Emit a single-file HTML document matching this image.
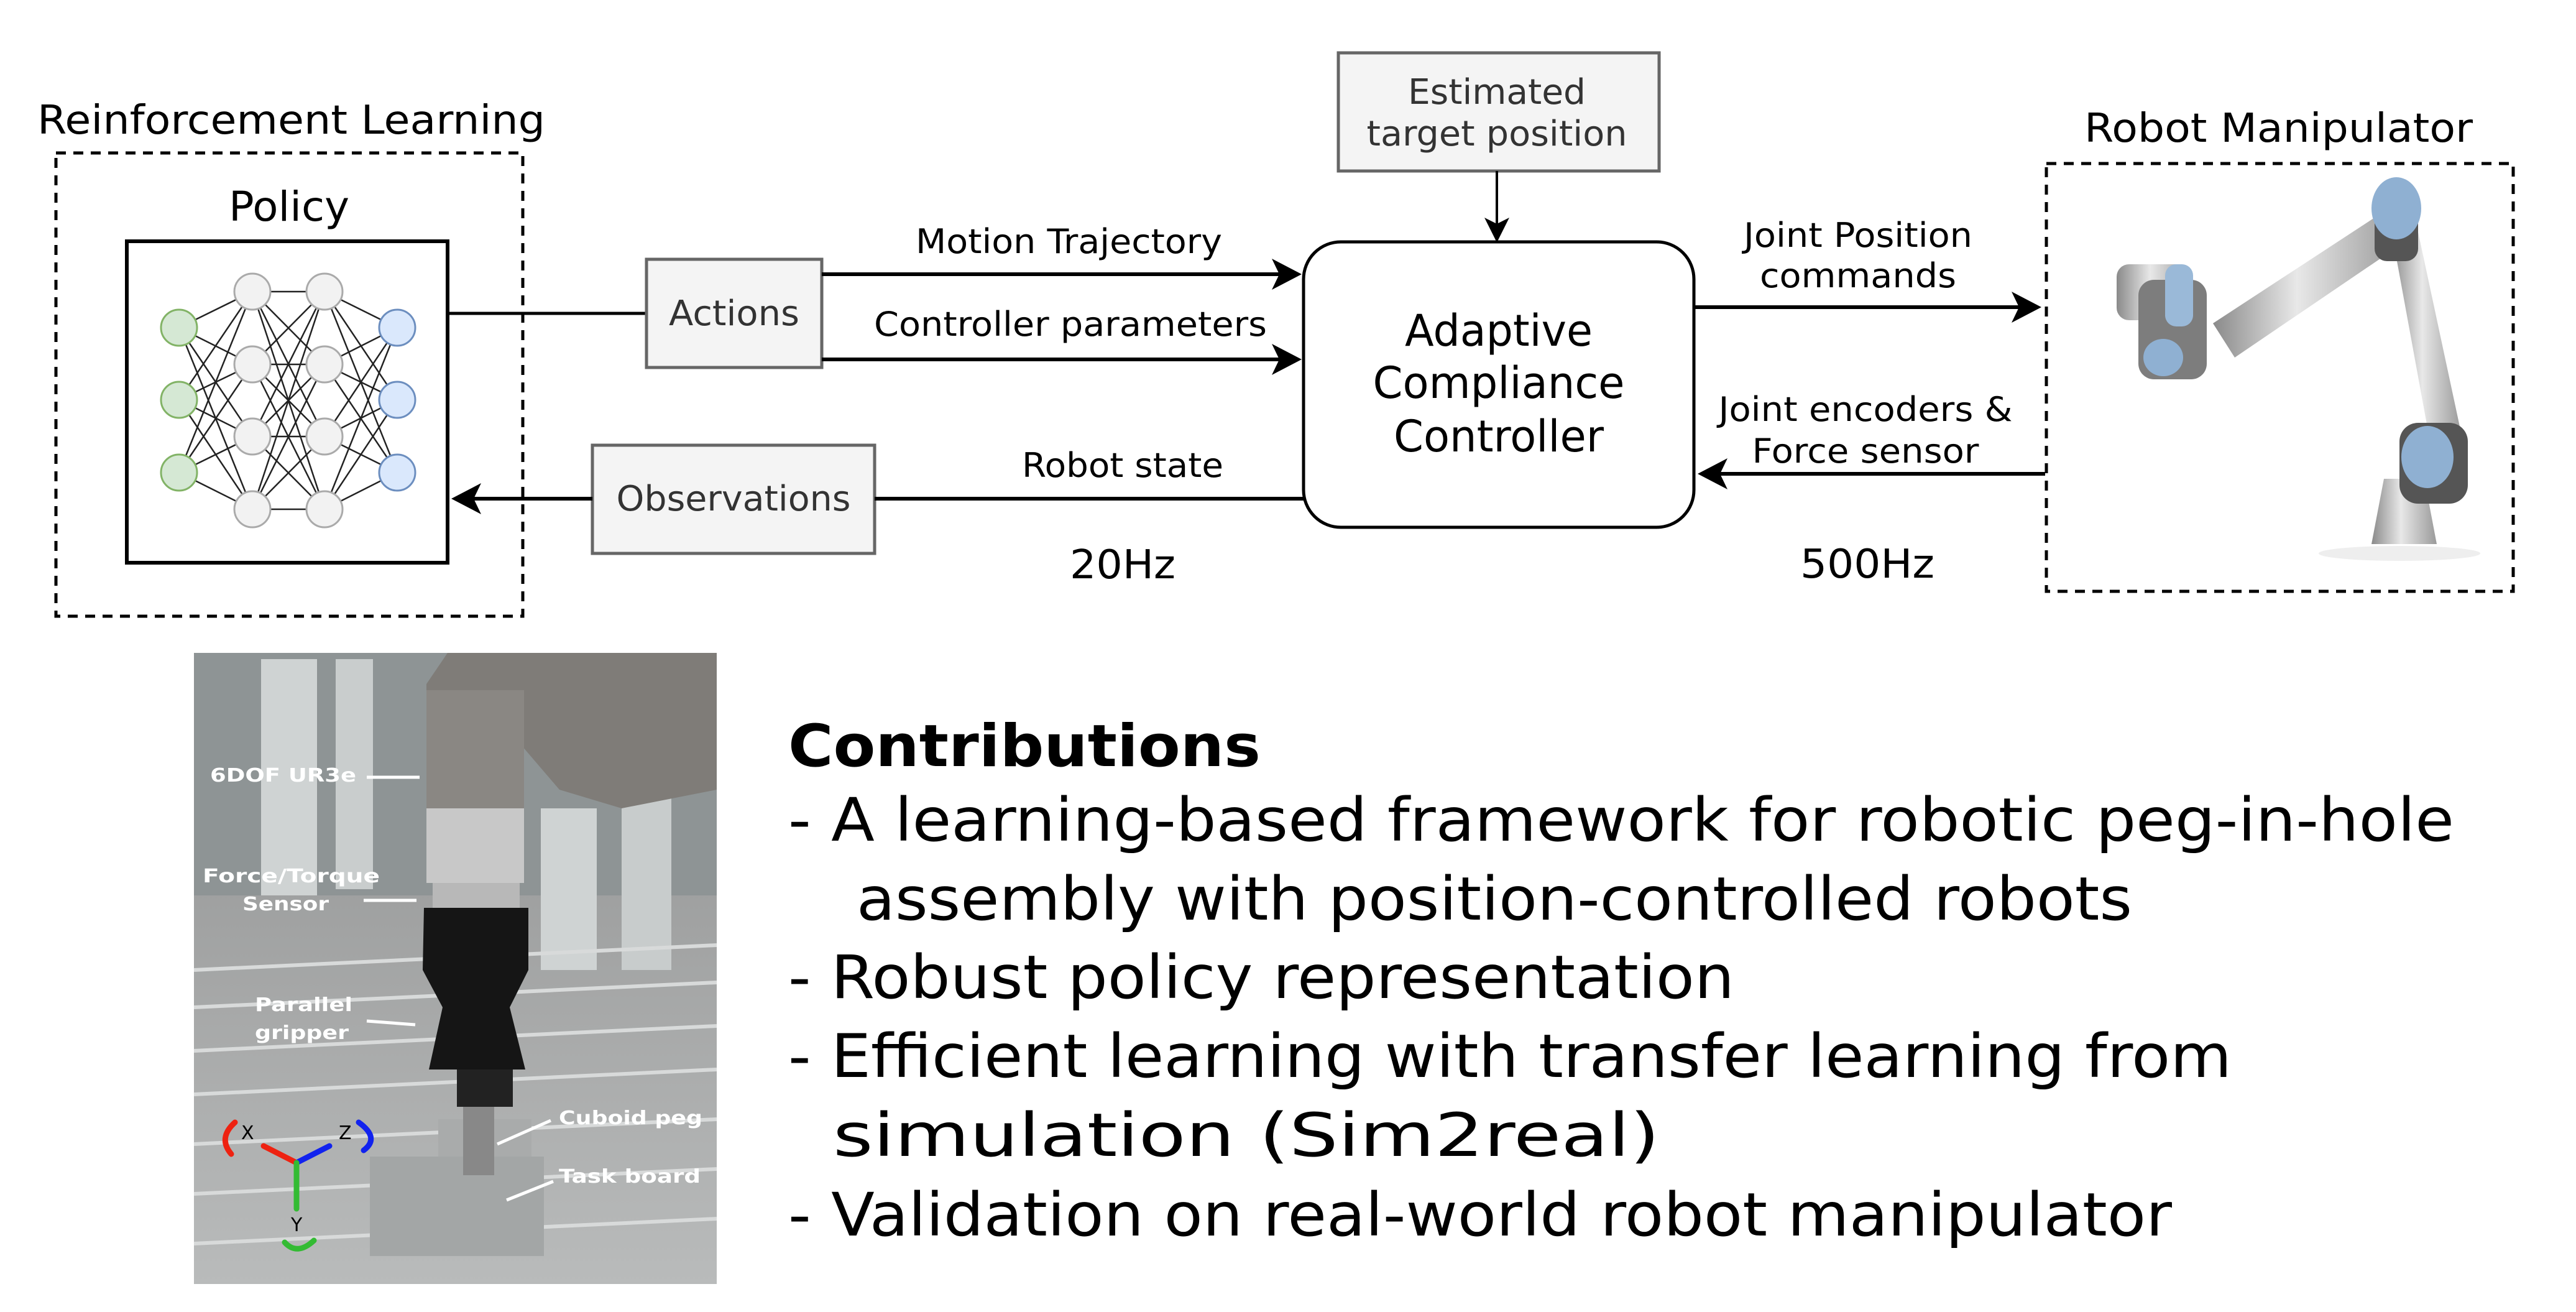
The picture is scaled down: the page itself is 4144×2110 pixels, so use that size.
<!DOCTYPE html>
<html><head><meta charset="utf-8"><style>
html,body{margin:0;padding:0;background:#fff;}
svg{display:block;}
text{font-family:"DejaVu Sans","Liberation Sans",sans-serif;}
</style></head><body>
<svg width="4144" height="2110" viewBox="0 0 4144 2110" xmlns="http://www.w3.org/2000/svg">
<defs>
<linearGradient id="arm" x1="0" y1="0" x2="1" y2="0"><stop offset="0" stop-color="#8a8a8a"/><stop offset="0.45" stop-color="#e8e8e8"/><stop offset="1" stop-color="#9a9a9a"/></linearGradient>
<linearGradient id="floor" x1="0" y1="0" x2="0" y2="1"><stop offset="0" stop-color="#8f9090"/><stop offset="1" stop-color="#b9bbbb"/></linearGradient>
</defs>

<!-- RL section -->
<text x="60" y="215" font-size="64" textLength="817" lengthAdjust="spacingAndGlyphs">Reinforcement Learning</text>
<rect x="90" y="246" width="751" height="745" fill="none" stroke="#000" stroke-width="5" stroke-dasharray="16,12"/>
<text x="368" y="355" font-size="66" textLength="194" lengthAdjust="spacingAndGlyphs">Policy</text>
<rect x="204" y="388" width="516" height="517" fill="#fff" stroke="#000" stroke-width="6"/>
<g stroke="#222" stroke-width="2.5">
<line x1="288" y1="527" x2="406" y2="469"/><line x1="288" y1="527" x2="406" y2="586"/><line x1="288" y1="527" x2="406" y2="702"/><line x1="288" y1="527" x2="406" y2="819"/>
<line x1="288" y1="643" x2="406" y2="469"/><line x1="288" y1="643" x2="406" y2="586"/><line x1="288" y1="643" x2="406" y2="702"/><line x1="288" y1="643" x2="406" y2="819"/>
<line x1="288" y1="760" x2="406" y2="469"/><line x1="288" y1="760" x2="406" y2="586"/><line x1="288" y1="760" x2="406" y2="702"/><line x1="288" y1="760" x2="406" y2="819"/>
<line x1="406" y1="469" x2="522" y2="469"/><line x1="406" y1="469" x2="522" y2="586"/><line x1="406" y1="469" x2="522" y2="702"/><line x1="406" y1="469" x2="522" y2="819"/>
<line x1="406" y1="586" x2="522" y2="469"/><line x1="406" y1="586" x2="522" y2="586"/><line x1="406" y1="586" x2="522" y2="702"/><line x1="406" y1="586" x2="522" y2="819"/>
<line x1="406" y1="702" x2="522" y2="469"/><line x1="406" y1="702" x2="522" y2="586"/><line x1="406" y1="702" x2="522" y2="702"/><line x1="406" y1="702" x2="522" y2="819"/>
<line x1="406" y1="819" x2="522" y2="469"/><line x1="406" y1="819" x2="522" y2="586"/><line x1="406" y1="819" x2="522" y2="702"/><line x1="406" y1="819" x2="522" y2="819"/>
<line x1="639" y1="527" x2="522" y2="469"/><line x1="639" y1="527" x2="522" y2="586"/><line x1="639" y1="527" x2="522" y2="702"/><line x1="639" y1="527" x2="522" y2="819"/>
<line x1="639" y1="643" x2="522" y2="469"/><line x1="639" y1="643" x2="522" y2="586"/><line x1="639" y1="643" x2="522" y2="702"/><line x1="639" y1="643" x2="522" y2="819"/>
<line x1="639" y1="760" x2="522" y2="469"/><line x1="639" y1="760" x2="522" y2="586"/><line x1="639" y1="760" x2="522" y2="702"/><line x1="639" y1="760" x2="522" y2="819"/>
</g>
<g stroke-width="3">
<circle cx="288" cy="527" r="29" fill="#d5e8d4" stroke="#82b366"/><circle cx="288" cy="643" r="29" fill="#d5e8d4" stroke="#82b366"/><circle cx="288" cy="760" r="29" fill="#d5e8d4" stroke="#82b366"/>
<circle cx="406" cy="469" r="29" fill="#f2f2f2" stroke="#aaa"/><circle cx="406" cy="586" r="29" fill="#f2f2f2" stroke="#aaa"/><circle cx="406" cy="702" r="29" fill="#f2f2f2" stroke="#aaa"/><circle cx="406" cy="819" r="29" fill="#f2f2f2" stroke="#aaa"/>
<circle cx="522" cy="469" r="29" fill="#f2f2f2" stroke="#aaa"/><circle cx="522" cy="586" r="29" fill="#f2f2f2" stroke="#aaa"/><circle cx="522" cy="702" r="29" fill="#f2f2f2" stroke="#aaa"/><circle cx="522" cy="819" r="29" fill="#f2f2f2" stroke="#aaa"/>
<circle cx="639" cy="527" r="29" fill="#dae8fc" stroke="#6c8ebf"/><circle cx="639" cy="643" r="29" fill="#dae8fc" stroke="#6c8ebf"/><circle cx="639" cy="760" r="29" fill="#dae8fc" stroke="#6c8ebf"/>
</g>

<!-- Actions -->
<line x1="720" y1="504" x2="1040" y2="504" stroke="#000" stroke-width="5"/>
<rect x="1040" y="417" width="282" height="174" fill="#f4f4f4" stroke="#666" stroke-width="5"/>
<text x="1181" y="523" font-size="56" fill="#333" text-anchor="middle" textLength="210" lengthAdjust="spacingAndGlyphs">Actions</text>
<line x1="1322" y1="441" x2="2060" y2="441" stroke="#000" stroke-width="6"/>
<polygon points="2094,441 2046,416 2058,441 2046,466" fill="#000"/>
<line x1="1322" y1="578" x2="2060" y2="578" stroke="#000" stroke-width="6"/>
<polygon points="2094,578 2046,553 2058,578 2046,603" fill="#000"/>
<text x="1473" y="407" font-size="54" textLength="493" lengthAdjust="spacingAndGlyphs">Motion Trajectory</text>
<text x="1406" y="540" font-size="54" textLength="632" lengthAdjust="spacingAndGlyphs">Controller parameters</text>

<!-- Observations -->
<rect x="953" y="716" width="454" height="174" fill="#f4f4f4" stroke="#666" stroke-width="5"/>
<text x="1180" y="821" font-size="56" fill="#333" text-anchor="middle" textLength="377" lengthAdjust="spacingAndGlyphs">Observations</text>
<line x1="953" y1="802" x2="760" y2="802" stroke="#000" stroke-width="6"/>
<polygon points="726,802 774,777 762,802 774,827" fill="#000"/>
<line x1="1407" y1="802" x2="2097" y2="802" stroke="#000" stroke-width="6"/>
<text x="1644" y="767" font-size="54" textLength="324" lengthAdjust="spacingAndGlyphs">Robot state</text>
<text x="1721" y="930" font-size="64" textLength="170" lengthAdjust="spacingAndGlyphs">20Hz</text>

<!-- Estimated target -->
<rect x="2153" y="85" width="516" height="190" fill="#f4f4f4" stroke="#666" stroke-width="5"/>
<text x="2408" y="167" font-size="56" fill="#333" text-anchor="middle" textLength="286" lengthAdjust="spacingAndGlyphs">Estimated</text>
<text x="2408" y="234" font-size="56" fill="#333" text-anchor="middle" textLength="419" lengthAdjust="spacingAndGlyphs">target position</text>
<line x1="2408" y1="275" x2="2408" y2="360" stroke="#000" stroke-width="4"/>
<polygon points="2408,390 2388,350 2408,360 2428,350" fill="#000"/>

<!-- Controller -->
<rect x="2097" y="389" width="628" height="459" rx="60" ry="60" fill="#fff" stroke="#000" stroke-width="5"/>
<text x="2411" y="556" font-size="70" text-anchor="middle" textLength="302" lengthAdjust="spacingAndGlyphs">Adaptive</text>
<text x="2411" y="640" font-size="70" text-anchor="middle" textLength="405" lengthAdjust="spacingAndGlyphs">Compliance</text>
<text x="2411" y="726" font-size="70" text-anchor="middle" textLength="338" lengthAdjust="spacingAndGlyphs">Controller</text>

<line x1="2725" y1="494" x2="3250" y2="494" stroke="#000" stroke-width="6"/>
<polygon points="3284,494 3236,469 3248,494 3236,519" fill="#000"/>
<text x="2989" y="397" font-size="54" text-anchor="middle" textLength="368" lengthAdjust="spacingAndGlyphs">Joint Position</text>
<text x="2989" y="462" font-size="54" text-anchor="middle" textLength="316" lengthAdjust="spacingAndGlyphs">commands</text>
<line x1="3290" y1="762" x2="2765" y2="762" stroke="#000" stroke-width="6"/>
<polygon points="2731,762 2779,737 2767,762 2779,787" fill="#000"/>
<text x="3001" y="677" font-size="54" text-anchor="middle" textLength="473" lengthAdjust="spacingAndGlyphs">Joint encoders &amp;</text>
<text x="3001" y="744" font-size="54" text-anchor="middle" textLength="365" lengthAdjust="spacingAndGlyphs">Force sensor</text>
<text x="2896" y="929" font-size="64" textLength="216" lengthAdjust="spacingAndGlyphs">500Hz</text>

<!-- Robot Manipulator -->
<text x="3353" y="228" font-size="64" textLength="625" lengthAdjust="spacingAndGlyphs">Robot Manipulator</text>
<rect x="3292" y="263" width="751" height="688" fill="none" stroke="#000" stroke-width="5" stroke-dasharray="16,12"/>
<g>
<ellipse cx="3860" cy="890" rx="130" ry="12" fill="#eee"/>
<path d="M3835,770 L3900,770 L3920,875 L3815,875 z" fill="url(#arm)"/>
<path d="M3845,360 L3885,350 L3960,700 L3910,715 z" fill="url(#arm)"/>
<path d="M3560,520 L3820,350 L3860,395 L3595,575 z" fill="url(#arm)"/>
<rect x="3405" y="425" width="120" height="90" rx="20" fill="url(#arm)"/>
<rect x="3440" y="450" width="110" height="160" rx="25" fill="#7d7d7d"/>
<rect x="3483" y="425" width="45" height="100" rx="18" fill="#9ab9d8"/>
<ellipse cx="3480" cy="575" rx="32" ry="30" fill="#8fb0d2"/>
<rect x="3860" y="680" width="110" height="130" rx="30" fill="#555"/>
<ellipse cx="3905" cy="735" rx="42" ry="50" fill="#8fb0d2"/>
<rect x="3820" y="330" width="70" height="90" rx="20" fill="#555"/>
<ellipse cx="3855" cy="335" rx="40" ry="50" fill="#8fb0d2"/>
</g>

<!-- Photo -->
<g>
<rect x="312" y="1050" width="841" height="1015" fill="url(#floor)"/>
<rect x="312" y="1050" width="841" height="390" fill="#8e9495"/>
<rect x="420" y="1060" width="90" height="380" fill="#cfd3d3"/>
<rect x="540" y="1060" width="60" height="370" fill="#c9cdcd"/>
<rect x="870" y="1300" width="90" height="260" fill="#cfd3d3"/>
<rect x="1000" y="1280" width="80" height="280" fill="#c8cccc"/>
<g stroke="#d8dada" stroke-width="6">
<line x1="312" y1="1560" x2="1153" y2="1520"/><line x1="312" y1="1620" x2="1153" y2="1580"/><line x1="312" y1="1690" x2="1153" y2="1650"/><line x1="312" y1="1760" x2="1153" y2="1720"/><line x1="312" y1="1840" x2="1153" y2="1800"/><line x1="312" y1="1920" x2="1153" y2="1880"/><line x1="312" y1="2000" x2="1153" y2="1960"/>
</g>
<path d="M720,1050 L1153,1050 L1153,1270 L1000,1300 L900,1270 L840,1200 L843,1300 L686,1300 L686,1100 z" fill="#7f7c78"/>
<rect x="686" y="1110" width="157" height="190" fill="#8a8783"/>
<rect x="686" y="1300" width="157" height="120" fill="#c8c8c8"/>
<rect x="696" y="1420" width="140" height="40" fill="#b8b8b8"/>
<path d="M682,1460 L850,1460 L850,1560 L820,1620 L845,1720 L690,1720 L712,1620 L680,1560 z" fill="#151515"/>
<rect x="735" y="1720" width="90" height="60" fill="#222"/>
<rect x="705" y="1800" width="150" height="90" fill="#a9abab"/>
<rect x="595" y="1860" width="280" height="160" fill="#a3a6a6"/>
<rect x="745" y="1780" width="50" height="110" fill="#888"/>
<g font-family="'DejaVu Sans','Liberation Sans',sans-serif" font-weight="bold" fill="#fff" font-size="30">
<text x="338" y="1257" textLength="235" lengthAdjust="spacingAndGlyphs">6DOF UR3e</text>
<text x="326" y="1419" textLength="285" lengthAdjust="spacingAndGlyphs">Force/Torque</text>
<text x="390" y="1464" textLength="139" lengthAdjust="spacingAndGlyphs">Sensor</text>
<text x="410" y="1626" textLength="157" lengthAdjust="spacingAndGlyphs">Parallel</text>
<text x="410" y="1671" textLength="151" lengthAdjust="spacingAndGlyphs">gripper</text>
<text x="899" y="1808" textLength="231" lengthAdjust="spacingAndGlyphs">Cuboid peg</text>
<text x="899" y="1902" textLength="228" lengthAdjust="spacingAndGlyphs">Task board</text>
</g>
<g stroke="#fff" stroke-width="5">
<line x1="590" y1="1250" x2="675" y2="1250"/><line x1="585" y1="1448" x2="670" y2="1448"/>
<line x1="590" y1="1642" x2="668" y2="1648"/><line x1="800" y1="1840" x2="886" y2="1802"/><line x1="815" y1="1930" x2="890" y2="1900"/>
</g>
<g stroke-width="9" fill="none" stroke-linecap="round">
<line x1="477" y1="1870" x2="424" y2="1843" stroke="#e21"/>
<line x1="477" y1="1870" x2="530" y2="1843" stroke="#12e"/>
<line x1="477" y1="1870" x2="477" y2="1944" stroke="#3b3"/>
<path d="M378,1805 Q350,1830 372,1856" stroke="#e21"/>
<path d="M577,1805 Q612,1830 585,1850" stroke="#12e"/>
<path d="M458,1998 Q478,2020 505,1995" stroke="#3b3"/>
</g>
<g font-size="30" fill="#000"><text x="388" y="1832">X</text><text x="545" y="1832">Z</text><text x="468" y="1980">Y</text></g>
</g>

<!-- Contributions -->
<text x="1268" y="1232" font-size="94" font-weight="bold" textLength="760" lengthAdjust="spacingAndGlyphs">Contributions</text>
<g font-size="96">
<text x="1268" y="1352" textLength="2680" lengthAdjust="spacingAndGlyphs">- A learning-based framework for robotic peg-in-hole</text>
<text x="1378" y="1479" textLength="2052" lengthAdjust="spacingAndGlyphs">assembly with position-controlled robots</text>
<text x="1268" y="1605" textLength="1522" lengthAdjust="spacingAndGlyphs">- Robust policy representation</text>
<text x="1268" y="1732" textLength="2322" lengthAdjust="spacingAndGlyphs">- Efficient learning with transfer learning from</text>
<text x="1340" y="1859" textLength="1330" lengthAdjust="spacingAndGlyphs">simulation (Sim2real)</text>
<text x="1268" y="1987" textLength="2226" lengthAdjust="spacingAndGlyphs">- Validation on real-world robot manipulator</text>
</g>
</svg>
</body></html>
